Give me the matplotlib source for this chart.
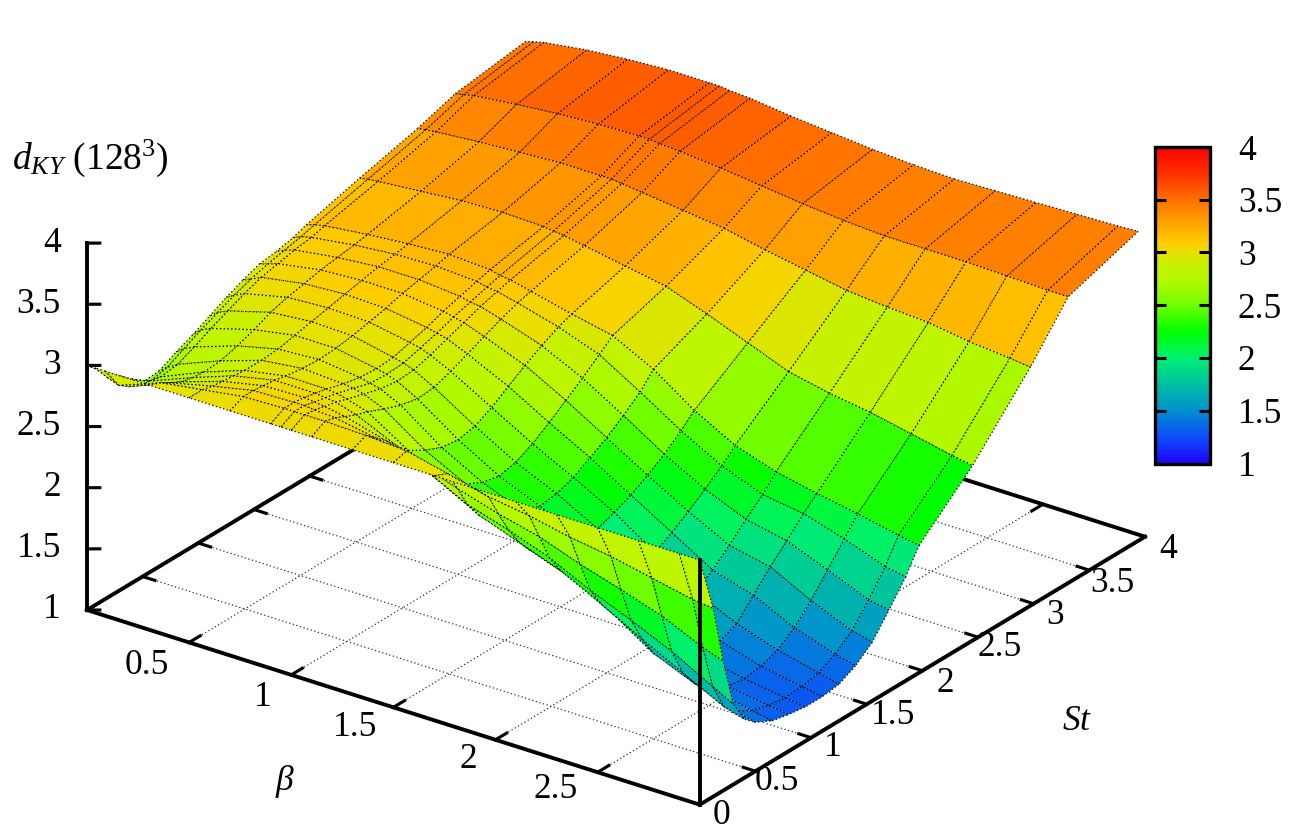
import numpy as np
import matplotlib
matplotlib.use('Agg')
import matplotlib.pyplot as plt
from matplotlib.colors import LinearSegmentedColormap
from matplotlib.cm import ScalarMappable
from matplotlib.colors import Normalize
from mpl_toolkits.mplot3d import proj3d

W, H = 1305, 840

beta = [0.0, 0.04, 0.09, 0.3, 0.5, 0.7, 0.9, 0.95, 1.0, 1.1, 1.3, 1.5, 1.7, 1.9, 2.1, 2.3, 2.5, 2.7, 2.9, 3.0]
st = [0.0, 0.12, 0.21, 0.3, 0.4, 0.5, 0.65, 0.8, 0.95, 1.1, 1.25, 1.4, 1.55, 1.7, 1.85, 1.97, 2.45, 2.97, 3.31, 3.94]

# one row per beta, one column per St
dky = [
    [3, 2.89, 2.82, 2.75, 2.67, 2.59, 2.6, 2.67, 2.73, 2.8, 2.87, 2.93, 2.98, 3.0, 3.03, 3.07, 3.19, 3.31, 3.41, 3.49],
    [3, 2.85, 2.8, 2.74, 2.68, 2.62, 2.65, 2.72, 2.79, 2.85, 2.91, 2.96, 3.0, 3.03, 3.06, 3.09, 3.2, 3.32, 3.42, 3.51],
    [3, 2.82, 2.76, 2.72, 2.7, 2.68, 2.7, 2.76, 2.83, 2.89, 2.95, 3.0, 3.03, 3.06, 3.08, 3.11, 3.21, 3.33, 3.44, 3.53],
    [3, 2.95, 2.9, 2.86, 2.84, 2.83, 2.84, 2.88, 2.93, 2.99, 3.03, 3.06, 3.09, 3.11, 3.13, 3.15, 3.24, 3.36, 3.48, 3.58],
    [3, 3.0, 2.98, 2.97, 2.96, 2.95, 2.95, 2.96, 2.99, 3.02, 3.05, 3.08, 3.11, 3.14, 3.16, 3.18, 3.27, 3.38, 3.51, 3.61],
    [3, 3.05, 3.05, 3.04, 3.03, 3.01, 2.99, 2.98, 2.99, 3.01, 3.04, 3.07, 3.11, 3.14, 3.17, 3.2, 3.28, 3.4, 3.53, 3.63],
    [3, 3.06, 3.06, 3.05, 3.03, 3.01, 2.97, 2.94, 2.93, 2.94, 2.98, 3.02, 3.07, 3.11, 3.15, 3.18, 3.27, 3.4, 3.54, 3.63],
    [3, 3.06, 3.06, 3.04, 3.02, 3.0, 2.96, 2.92, 2.91, 2.92, 2.96, 3.0, 3.05, 3.09, 3.13, 3.16, 3.26, 3.4, 3.54, 3.63],
    [3, 3.06, 3.05, 3.03, 3.01, 2.98, 2.94, 2.9, 2.88, 2.89, 2.93, 2.98, 3.03, 3.08, 3.12, 3.15, 3.25, 3.39, 3.53, 3.62],
    [3, 3.06, 3.04, 3.0, 2.96, 2.93, 2.87, 2.82, 2.79, 2.8, 2.85, 2.91, 2.97, 3.03, 3.08, 3.11, 3.22, 3.37, 3.52, 3.61],
    [3, 3.05, 2.98, 2.91, 2.81, 2.72, 2.64, 2.58, 2.56, 2.59, 2.66, 2.75, 2.84, 2.92, 2.99, 3.03, 3.16, 3.33, 3.49, 3.57],
    [3, 3.03, 2.9, 2.77, 2.64, 2.55, 2.47, 2.4, 2.37, 2.4, 2.47, 2.56, 2.66, 2.76, 2.87, 2.96, 3.1, 3.29, 3.45, 3.54],
    [3, 2.95, 2.78, 2.6, 2.46, 2.36, 2.3, 2.27, 2.23, 2.25, 2.3, 2.38, 2.46, 2.56, 2.67, 2.79, 2.98, 3.22, 3.41, 3.51],
    [3, 2.87, 2.68, 2.5, 2.34, 2.22, 2.14, 2.1, 2.06, 2.07, 2.12, 2.18, 2.26, 2.35, 2.46, 2.56, 2.85, 3.16, 3.38, 3.49],
    [3, 2.82, 2.6, 2.38, 2.22, 2.1, 2.0, 1.92, 1.86, 1.85, 1.9, 1.98, 2.07, 2.17, 2.28, 2.38, 2.72, 3.1, 3.36, 3.48],
    [3, 2.75, 2.48, 2.22, 2.05, 1.92, 1.8, 1.7, 1.64, 1.64, 1.68, 1.78, 1.9, 2.03, 2.15, 2.27, 2.65, 3.07, 3.36, 3.49],
    [3, 2.7, 2.38, 2.08, 1.87, 1.7, 1.55, 1.45, 1.42, 1.47, 1.53, 1.68, 1.83, 1.96, 2.1, 2.2, 2.6, 3.05, 3.36, 3.5],
    [3, 2.63, 2.27, 1.93, 1.7, 1.56, 1.44, 1.37, 1.35, 1.37, 1.42, 1.52, 1.66, 1.83, 2.0, 2.14, 2.53, 3.0, 3.35, 3.51],
    [3, 2.56, 2.12, 1.75, 1.53, 1.44, 1.36, 1.32, 1.3, 1.31, 1.34, 1.41, 1.52, 1.69, 1.88, 2.07, 2.46, 2.97, 3.34, 3.52],
    [3, 2.54, 2.06, 1.66, 1.48, 1.4, 1.33, 1.3, 1.28, 1.28, 1.3, 1.37, 1.48, 1.66, 1.85, 2.04, 2.43, 2.95, 3.34, 3.53],
]

beta_ticks = [0.5, 1, 1.5, 2, 2.5]
st_ticks = [0.5, 1, 1.5, 2, 2.5, 3, 3.5]
z_ticks = [1, 1.5, 2, 2.5, 3, 3.5, 4]
z_labels = ['1', '1.5', '2', '2.5', '3', '3.5', '4']

# colour bar
palette_z = [1.0, 1.2, 1.5, 1.75, 2.0, 2.25, 2.5, 2.75, 2.9, 3.0, 3.1, 3.25, 3.5, 3.75, 4.0]
palette_colors = ['#2000ff', '#1040ff', '#0090d0', '#00c0a0', '#00f070', '#00ff00', '#70ff00',
                  '#b8f800', '#c8f000', '#e8e000', '#ffcc00', '#ffaa00', '#ff7000', '#ff3000', '#ff0000']

plt.rcParams['font.family'] = 'Liberation Serif'
plt.rcParams['mathtext.fontset'] = 'custom'
plt.rcParams['mathtext.rm'] = 'Liberation Serif'
plt.rcParams['mathtext.it'] = 'Liberation Serif:italic'

cmap = LinearSegmentedColormap.from_list(
    'dky', [((z - 1.0) / 3.0, c) for z, c in zip(palette_z, palette_colors)], N=512)

AXIS_LW = 2.8
DOTS = (0, (1, 2))

fig = plt.figure(figsize=(W / 100, H / 100), dpi=100)
ax = fig.add_axes([0, 0, 1, 1], projection='3d', proj_type='ortho')
ax.computed_zorder = False
ax.set_axis_off()
ax.view_init(elev=25.93, azim=-54)
ax.set_box_aspect((1, 1, 0.5386))
ax.set_xlim(0, 3)
ax.set_ylim(0, 4)
ax.set_zlim(1, 4)

# base grid
for b in beta_ticks:
    ax.plot([b, b], [0, 4], [1, 1], color='#333333', lw=0.9, ls=DOTS, zorder=1)
for s in st_ticks:
    ax.plot([0, 3], [s, s], [1, 1], color='#333333', lw=0.9, ls=DOTS, zorder=1)

# base border and ticks, below the surface
ax.plot([0, 3], [4, 4], [1, 1], color='k', lw=AXIS_LW, zorder=1.5)
ax.plot([0, 0], [0, 4], [1, 1], color='k', lw=AXIS_LW, zorder=1.5)
ax.plot([3, 3], [0, 4], [1, 1], color='k', lw=AXIS_LW, zorder=1.5)
ax.plot([0, 3], [0, 0], [1, 1], color='k', lw=AXIS_LW, zorder=1.5)
for b in beta_ticks:
    ax.plot([b, b], [0, 0.1], [1, 1], color='k', lw=AXIS_LW * 0.8, zorder=1.5)
    ax.plot([b, b], [4, 3.9], [1, 1], color='k', lw=AXIS_LW * 0.8, zorder=1.5)
for s in st_ticks:
    ax.plot([3, 2.94], [s, s], [1, 1], color='k', lw=AXIS_LW * 0.8, zorder=1.5)
    ax.plot([0, 0.06], [s, s], [1, 1], color='k', lw=AXIS_LW * 0.8, zorder=1.5)

B, S = np.meshgrid(beta, st, indexing='ij')
ax.plot_surface(B, S, np.array(dky), rstride=1, cstride=1, cmap=cmap, vmin=1, vmax=4,
                shade=False, edgecolor='k', linewidth=0.9, linestyle=DOTS, zorder=2)

# z axis and the front vertical
ax.plot([0, 0], [0, 0], [1, 4], color='k', lw=AXIS_LW, zorder=3)
ax.plot([3, 3], [0, 0], [1, 3], color='k', lw=AXIS_LW, zorder=3)
for z in z_ticks:
    ax.plot([0, 0.041], [0, 0.04], [z, z], color='k', lw=AXIS_LW * 0.8, zorder=3)


def screen(b, s, z):
    xp, yp, _ = proj3d.proj_transform(b, s, z, ax.get_proj())
    return ax.transData.transform((xp, yp))


# fit the square 3d axes so the base corners land where they should
fig.canvas.draw()
p0, p1 = screen(0, 0, 1), screen(3, 4, 1)
pos = ax.get_position()
size = pos.width * W * 1058 / (p1[0] - p0[0])
ax.set_position([0, 0, size / W, size / H])
fig.canvas.draw()
p0 = screen(0, 0, 1)
ax.set_position([(87 - p0[0]) / W, (H - 610 - p0[1]) / H, size / W, size / H])

LABEL_FS = 25.5


def label(x, y, txt, ha='center', fs=LABEL_FS):
    fig.text(x / W, 1 - y / H, txt, ha=ha, va='center', fontsize=fs)


for z, txt in zip(z_ticks, z_labels):
    label(61, 610 - (z - 1) * 122.3, txt, ha='right')

beta_pos = [(147, 665), (263, 697), (355, 728), (468, 760), (556, 790)]
for (x, y), b in zip(beta_pos, beta_ticks):
    label(x, y, f'{b:g}')

st_pos = [(777, 782), (833, 748), (893, 716), (945, 683), (1000, 648), (1055, 615), (1112, 584), (1168, 550)]
for (x, y), s in zip(st_pos, st_ticks + [4]):
    label(x, y, f'{s:g}')
label(722, 815, '0')

label(285, 781, r'$\beta$')
label(1077, 722, r'$St$')
label(12, 158, r'$d_{KY}\ (\mathrm{128}^{3})$', ha='left', fs=27)

# colour box
cax = fig.add_axes([1155 / W, 1 - 463.5 / H, 55 / W, 316.5 / H])
cb = fig.colorbar(ScalarMappable(Normalize(1, 4), cmap), cax=cax, ticks=z_ticks)
cb.ax.set_yticklabels(z_labels, fontsize=LABEL_FS)
cb.ax.tick_params(axis='y', direction='in', left=True, right=True, length=8, width=2.2, pad=20)
cb.outline.set_linewidth(2.4)

fig.savefig('out.png', dpi=100)
plt.close(fig)
